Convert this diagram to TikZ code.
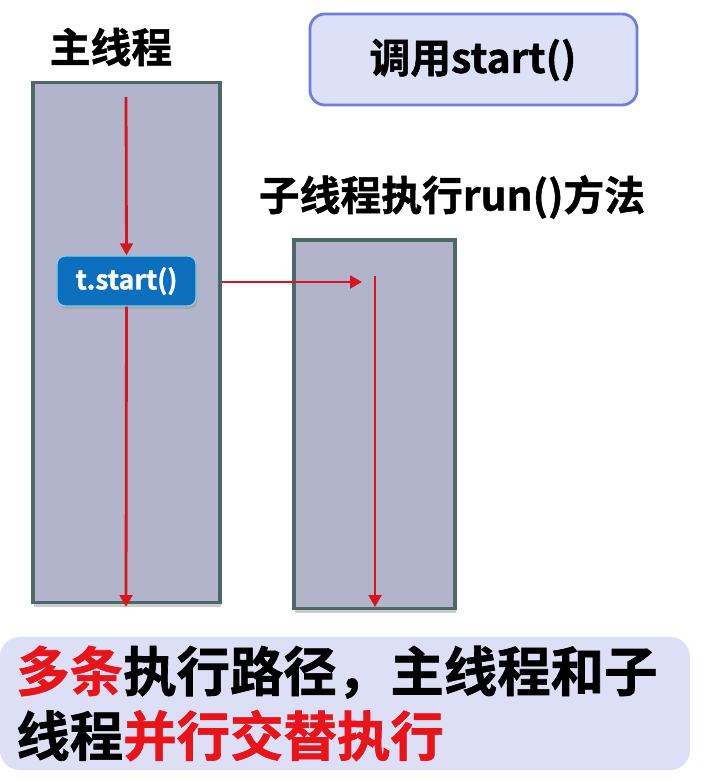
\documentclass[tikz,border=0pt]{standalone}
\usepackage{fontspec}
\setmainfont{Noto Sans CJK SC}[BoldFont={Noto Sans CJK SC Bold}, BoldFeatures={FakeBold=1.2}]
\usetikzlibrary{shadows,arrows.meta}

\definecolor{threadfill}{HTML}{B1B4CB}
\definecolor{threadline}{HTML}{4E6868}
\definecolor{callfill}{HTML}{DDE1F7}
\definecolor{callline}{HTML}{6B7FE3}
\definecolor{startfill}{HTML}{0B6FBE}
\definecolor{startline}{HTML}{86CDE6}
\definecolor{flowred}{HTML}{D8141C}
\definecolor{textred}{HTML}{E8141A}
\definecolor{notefill}{HTML}{DCDFF5}

\tikzset{
    thread/.style={rectangle, draw=threadline, line width=2.2pt, fill=threadfill,
        drop shadow={shadow xshift=1pt, shadow yshift=-3.5pt, opacity=0.4}},
    flow/.style={draw=flowred, line width=2pt, -{Triangle[length=8.5pt,width=9pt]}},
    title/.style={font=\fontsize{29}{34}\selectfont\bfseries},
}

\begin{document}
\begin{tikzpicture}[x=0.025cm, y=-0.025cm]
    \useasboundingbox (0,0) rectangle (703,781);

    \node[title] (maintitle) at (111,47) {主线程};
    \node[rectangle, rounded corners=0.375cm, draw=callline, line width=2pt, fill=callfill,
        minimum width=8.175cm, minimum height=2.275cm] (call) at (473.5,59.5) {};
    \node[title] (calltext) at (473,60) {调用start()};
    \node[title] (subtitle) at (452,197) {子线程执行run()方法};

    \node[thread, minimum width=4.675cm, minimum height=13cm] (main) at (126.5,342.5) {};
    \node[thread, minimum width=4.025cm, minimum height=9.2cm] (sub) at (374.5,424) {};

    \node[rectangle, rounded corners=0.2cm, draw=startline, line width=1pt, fill=startfill,
        text=white, font=\fontsize{19}{22}\selectfont\bfseries,
        minimum width=3.475cm, minimum height=1.25cm,
        drop shadow={shadow xshift=1pt, shadow yshift=-2pt, opacity=0.3}] (start) at (126.5,281) {t.start()};

    \coordinate (maintop) at (126,97);
    \coordinate (mainend) at (126,607);
    \coordinate (subin) at (362,282);
    \coordinate (subtop) at (375,276);
    \coordinate (subend) at (375,607);

    \draw[flow] (maintop) -- (start.north);
    \draw[flow] (start.south) -- (mainend);
    \draw[flow] (main.east |- subin) -- (subin);
    \draw[flow] (subtop) -- (subend);

    \node[rectangle, rounded corners=0.5cm, fill=notefill,
        minimum width=17.25cm, minimum height=3.325cm] (note) at (345,703.5) {};
    \node[anchor=west, align=left, inner sep=0pt, font=\fontsize{38}{46}\selectfont\bfseries] (notetext) at (16,703.5)
        {\textcolor{textred}{多条}执行路径，主线程和子\\线程\textcolor{textred}{并行交替执行}};
\end{tikzpicture}
\end{document}
